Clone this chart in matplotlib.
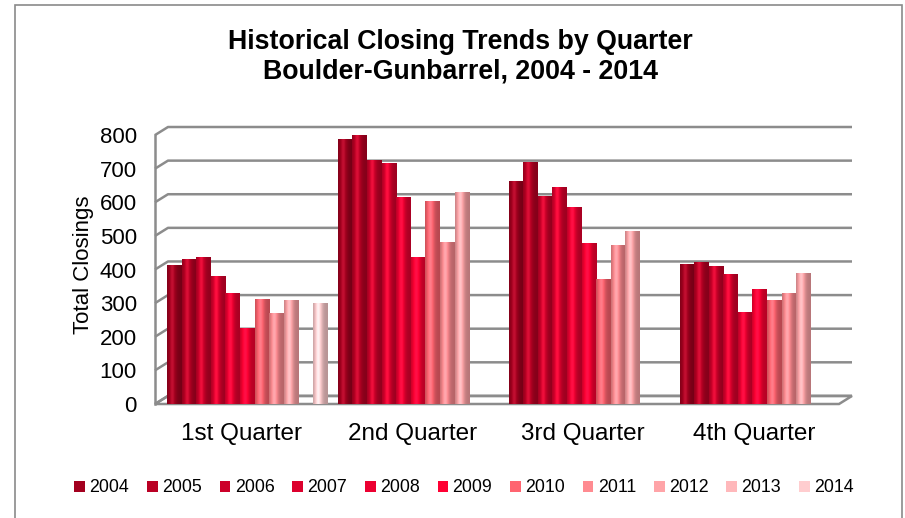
import numpy as np
import matplotlib
matplotlib.use("Agg")
import matplotlib.pyplot as plt
from matplotlib.colors import to_rgb
from matplotlib.patches import Rectangle, Polygon

plt.rcParams['font.family'] = ['Liberation Sans', 'DejaVu Sans']

quarters = ["1st Quarter", "2nd Quarter", "3rd Quarter", "4th Quarter"]
years = ["2004", "2005", "2006", "2007", "2008", "2009", "2010", "2011", "2012", "2013", "2014"]
nan = np.nan
closings = {
    "2004": [413, 789, 664, 417],
    "2005": [432, 801, 720, 423],
    "2006": [438, 726, 619, 411],
    "2007": [381, 717, 646, 387],
    "2008": [330, 616, 586, 274],
    "2009": [226, 438, 479, 342],
    "2010": [313, 604, 372, 310],
    "2011": [271, 482, 473, 330],
    "2012": [310, 631, 515, 390],
    "2013": [nan, nan, nan, nan],
    "2014": [301, nan, nan, nan],
}
colors = ["#a3001f", "#ba0024", "#cc0029", "#dc002d", "#ec0031", "#ff0033",
          "#ff6470", "#ff8b91", "#ffa4a8", "#ffb8bb", "#ffcdcf"]
yticks = [0, 100, 200, 300, 400, 500, 600, 700, 800]

W, H = 905, 518
fig = plt.figure(figsize=(W / 100, H / 100), dpi=100)
fig.patches.append(Rectangle((15 / W, -0.05), (902 - 15) / W, (518 - 5) / H + 0.05,
                             transform=fig.transFigure, fill=False,
                             edgecolor="#8a8a8a", lw=1.2))

ax = fig.add_axes([155 / W, (H - 404) / H, (852 - 155) / W, (404 - 126) / H])
x0, x1 = -0.54, 3.54
ax.set_xlim(x0, x1)
ax.set_ylim(0, 827)
for s in ax.spines.values():
    s.set_visible(False)

# pseudo 3D walls
dx, dy = 0.076, 24
gc = "#8c8c8c"
for v in yticks:
    ax.plot([x0, x0 + dx, x1], [v, v + dy, v + dy], color=gc, lw=1.8,
            solid_capstyle="butt", zorder=1, clip_on=False)
ax.plot([x0, x0], [0, 800], color=gc, lw=1.8, zorder=1, clip_on=False)
ax.add_patch(Polygon([[x0, 0], [x1 - dx, 0], [x1, dy], [x0 + dx, dy]], closed=True,
                     fill=False, edgecolor=gc, lw=1.8, zorder=1, clip_on=False))

bw = 14.6 / 171
xs = np.arange(len(quarters))
grad = np.linspace(0, 1, 40)
shade = 0.72 + 0.38 * np.exp(-((grad - 0.35) / 0.28) ** 2)
for j, yr in enumerate(years):
    base = np.array(to_rgb(colors[j]))
    img = np.clip(base[None, :] * shade[:, None] + (shade[:, None] > 1) * (shade[:, None] - 1) * 0.6, 0, 1)
    img = img[None, :, :]
    for i, v in enumerate(closings[yr]):
        if np.isnan(v):
            continue
        xc = xs[i] + (j - 5) * bw
        r = Rectangle((xc - bw / 2, 0), bw, v, facecolor=colors[j], edgecolor="none", zorder=3)
        ax.add_patch(r)
        im = ax.imshow(img, extent=(xc - bw / 2, xc + bw / 2, 0, v), aspect="auto",
                       zorder=4, interpolation="bilinear")
        im.set_clip_path(r)

ax.set_yticks(yticks)
ax.set_yticklabels([str(t) for t in yticks], fontsize=16)
ax.set_xticks(xs - 0.035)
ax.set_xticklabels(quarters, fontsize=17.5)
ax.tick_params(axis="both", length=0)
ax.tick_params(axis="y", pad=13)
ax.tick_params(axis="x", pad=14)
ax.set_ylabel("Total Closings", fontsize=16, labelpad=4)

fig.text(460 / W, 1 - 42 / H, "Historical Closing Trends by Quarter", ha="center", va="center",
         fontsize=19.3, fontweight="bold")
fig.text(460 / W, 1 - 72 / H, "Boulder-Gunbarrel, 2004 - 2014", ha="center", va="center",
         fontsize=19.3, fontweight="bold")

handles = [Rectangle((0, 0), 1, 1, facecolor=c, edgecolor="none") for c in colors]
fig.legend(handles, years, loc="center", bbox_to_anchor=(464 / W, 1 - 488 / H), ncol=11,
           frameon=False, fontsize=12.8, handlelength=0.6, handleheight=0.6,
           handletextpad=0.25, columnspacing=1.0, borderaxespad=0)

fig.savefig("out.png", dpi=100)
